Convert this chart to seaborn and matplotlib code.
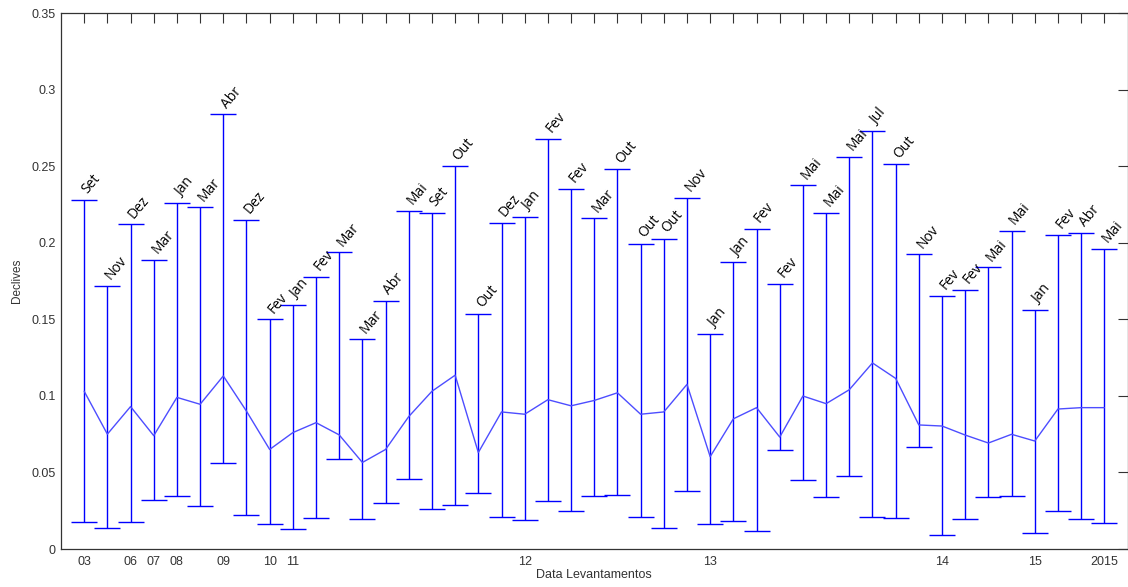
import matplotlib
matplotlib.use("Agg")
import matplotlib.pyplot as plt
import seaborn as sns
import numpy as np
import pandas as pd

# Survey month of each campaign (one per point, in order)
meses = ["Set", "Nov", "Dez", "Mar", "Jan", "Mar", "Abr", "Dez", "Fev", "Jan",
         "Fev", "Mar", "Mar", "Abr", "Mai", "Set", "Out", "Out", "Dez", "Jan",
         "Fev", "Fev", "Mar", "Out", "Out", "Out", "Nov", "Jan", "Jan", "Fev",
         "Fev", "Mai", "Mai", "Mai", "Jul", "Out", "Nov", "Fev", "Fev", "Mai",
         "Mai", "Jan", "Fev", "Abr", "Mai"]

# Mean slope per campaign
media = [0.103, 0.075, 0.093, 0.074, 0.099, 0.0945, 0.113, 0.090, 0.065, 0.076,
         0.0825, 0.0745, 0.0565, 0.065, 0.0865, 0.103, 0.1135, 0.063, 0.0895, 0.088,
         0.0975, 0.0935, 0.097, 0.102, 0.088, 0.0895, 0.1075, 0.0603, 0.085, 0.0923,
         0.0731, 0.0999, 0.0949, 0.104, 0.1215, 0.1114, 0.081, 0.0803, 0.0744, 0.0692,
         0.0749, 0.0705, 0.0914, 0.0923, 0.0923]

# Maximum slope per campaign
maximo = [0.228, 0.172, 0.212, 0.189, 0.226, 0.223, 0.284, 0.215, 0.150, 0.1595,
          0.1776, 0.1937, 0.137, 0.162, 0.221, 0.2196, 0.250, 0.1535, 0.2131, 0.2168,
          0.268, 0.2353, 0.2161, 0.248, 0.1992, 0.2024, 0.2294, 0.1404, 0.1872, 0.209,
          0.1733, 0.2375, 0.2196, 0.256, 0.273, 0.2512, 0.1924, 0.1654, 0.1693, 0.184,
          0.2079, 0.156, 0.2053, 0.2064, 0.1959]

# Minimum slope per campaign
minimo = [0.0174, 0.0135, 0.0174, 0.032, 0.0348, 0.0281, 0.0564, 0.0222, 0.0161, 0.0129,
          0.020, 0.0586, 0.0194, 0.0302, 0.0459, 0.0261, 0.0287, 0.0368, 0.0207, 0.0189,
          0.0313, 0.0248, 0.0346, 0.0355, 0.0207, 0.0135, 0.0381, 0.0161, 0.0183, 0.0118,
          0.0644, 0.0453, 0.034, 0.0479, 0.0207, 0.020, 0.0664, 0.0089, 0.0194, 0.034,
          0.0346, 0.0102, 0.0248, 0.0194, 0.017]

# Year labels shown under selected campaigns (campaign number -> label)
anos_pos = [1, 3, 4, 5, 7, 9, 10, 20, 28, 38, 42, 45]
anos_txt = ["03", "06", "07", "08", "09", "10", "11", "12", "13", "14", "15", "2015"]

y_ticks = [0, 0.05, 0.1, 0.15, 0.2, 0.25, 0.3, 0.35]
y_tick_txt = ["0", "0.05", "0.1", "0.15", "0.2", "0.25", "0.3", "0.35"]

sns.set_theme(style="white")
plt.rcParams["font.family"] = ["Liberation Sans", "DejaVu Sans"]

n = len(media)
df = pd.DataFrame({"campanha": np.arange(1, n + 1), "media": media,
                   "maximo": maximo, "minimo": minimo, "mes": meses})

fig = plt.figure(figsize=(11.28, 5.87), dpi=100)
ax = fig.add_axes([61 / 1128, 38 / 587, 1066.5 / 1128, 536 / 587])

azul = "#0000ff"
err_low = df["media"] - df["minimo"]
err_high = df["maximo"] - df["media"]
ax.errorbar(df["campanha"], df["media"], yerr=[err_low, err_high], fmt="none",
            ecolor=azul, elinewidth=1.0, capsize=9.5, capthick=1.0, zorder=2)
sns.lineplot(data=df, x="campanha", y="media", color="#4d4dff", linewidth=1.0,
             ax=ax, zorder=3, legend=False)

# Month name above each upper whisker
for _, r in df.iterrows():
    ax.annotate(r["mes"], xy=(r["campanha"], r["maximo"]), xytext=(2.5, 4),
                textcoords="offset points", rotation=50, rotation_mode="anchor",
                ha="left", va="baseline", fontsize=10, family="Open Sans",
                color="black")

ax.set_xlim(0, n + 1)
ax.set_ylim(0, 0.35)
ax.set_xticks(np.arange(1, n + 1))
lbl = [""] * n
for p, t in zip(anos_pos, anos_txt):
    lbl[p - 1] = t
ax.set_xticklabels(lbl)
ax.set_yticks(y_ticks)
ax.set_yticklabels(y_tick_txt)

ax.tick_params(axis="both", direction="in", length=7.5, width=0.8, color="#333333",
               labelsize=9, labelcolor="#333333", top=True, right=True, pad=5)
ax.tick_params(axis="y", pad=4)
for s in ax.spines.values():
    s.set_color("#333333")
    s.set_linewidth(0.9)

ax.set_xlabel("Data Levantamentos", fontsize=9, color="#333333", labelpad=1)
ax.set_ylabel("Declives", fontsize=8.5, color="#333333", labelpad=6)

fig.savefig("out.png", dpi=100)
